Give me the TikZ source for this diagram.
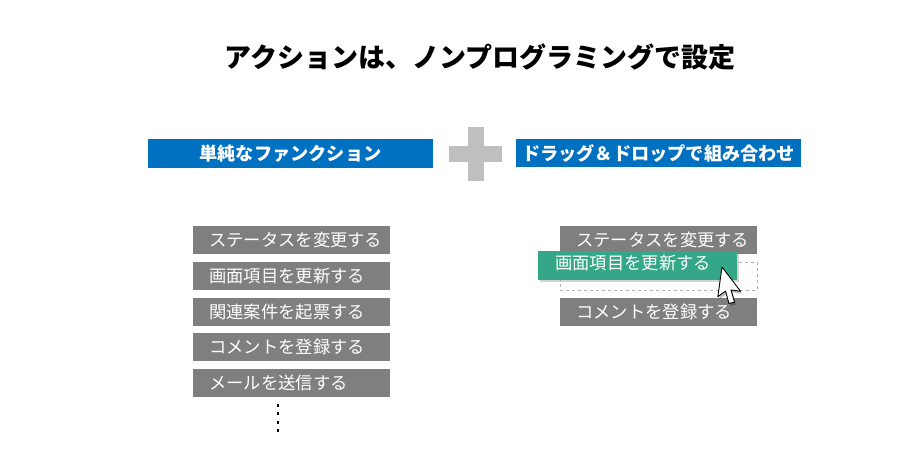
\documentclass[tikz,border=0pt]{standalone}
\usepackage{fontspec}
\setmainfont{Noto Sans CJK JP}
\usetikzlibrary{shadows}
\definecolor{hdrblue}{HTML}{0070C0}
\definecolor{boxgray}{HTML}{7F7F7F}
\definecolor{plusgray}{HTML}{BFBFBF}
\definecolor{dragreen}{HTML}{33A787}
\tikzset{
  hdrbox/.style={fill=hdrblue, minimum width=285pt, minimum height=29pt, inner sep=0pt,
    text=white, font=\bfseries\fontsize{18.2}{18}\selectfont},
  actbox/.style={fill=boxgray, minimum width=197pt, minimum height=28pt, inner sep=0pt},
  acttext/.style={text=white, anchor=west, inner sep=0pt, font=\fontsize{17.3}{17}\selectfont},
  dotmark/.style={fill=black, minimum size=2.2pt, inner sep=0pt},
}
\begin{document}
\begin{tikzpicture}[x=1pt,y=-1pt]
\useasboundingbox (0,0) rectangle (899,457);
% title
\node[font=\bfseries\fontsize{27}{28}\selectfont] (title) at (480,57) {アクションは、ノンプログラミングで設定};
% headers
\node[hdrbox] (hl) at (290.5,154) {単純なファンクション};
\node[hdrbox, minimum height=28pt] (hr) at (658.5,153) {ドラッグ＆ドロップで組み合わせ};
% plus
\fill[plusgray] (467.5,127) rectangle (483.5,181);
\fill[plusgray] (449,146.5) rectangle (502,162.5);
\coordinate (plus) at (475.5,154);
% left list
\foreach \y/\t/\n in {240/ステータスを変更する/a, 276/画面項目を更新する/b, 312/関連案件を起票する/c, 347/コメントを登録する/d, 383/メールを送信する/e}{
  \node[actbox] (l\n) at (291.5,\y) {};
  \node[acttext] (lt\n) at (209,\y) {\t};
}
\foreach \y/\n in {405.5/1,413.5/2,422.5/3,430.5/4}{
  \node[dotmark] (dot\n) at (278,\y) {};
}
% right list
\node[actbox] (ra) at (658.5,240) {};
\node[acttext] (rta) at (576,240) {ステータスを変更する};
\node[draw=black!30, dashed, minimum width=197pt, minimum height=28pt, inner sep=0pt] (rslot) at (658.5,276) {};
\node[actbox] (rc) at (658.5,312) {};
\node[acttext] (rtc) at (576,312) {コメントを登録する};
% dragged item
\node[fill=dragreen, minimum width=199pt, minimum height=29pt, inner sep=0pt,
  drop shadow={shadow xshift=1.5pt, shadow yshift=-2pt, opacity=0.35}] (rb) at (637.5,265.5) {};
\node[acttext] (rtb) at (555,263) {画面項目を更新する};
% cursor
\begin{scope}[shift={(722,267)}, rotate=-8, scale=1.5]
  \fill[black, opacity=0.25, shift={(1.2,1.5)}] (0,0) -- (0,20) -- (4.6,15.6) -- (8,23.5) -- (11.5,22) -- (8.1,14.3) -- (14.5,14.3) -- cycle;
  \filldraw[fill=white, draw=black, line width=0.9pt, line join=round] (0,0) -- (0,20) -- (4.6,15.6) -- (8,23.5) -- (11.5,22) -- (8.1,14.3) -- (14.5,14.3) -- cycle;
\end{scope}
\end{tikzpicture}
\end{document}
